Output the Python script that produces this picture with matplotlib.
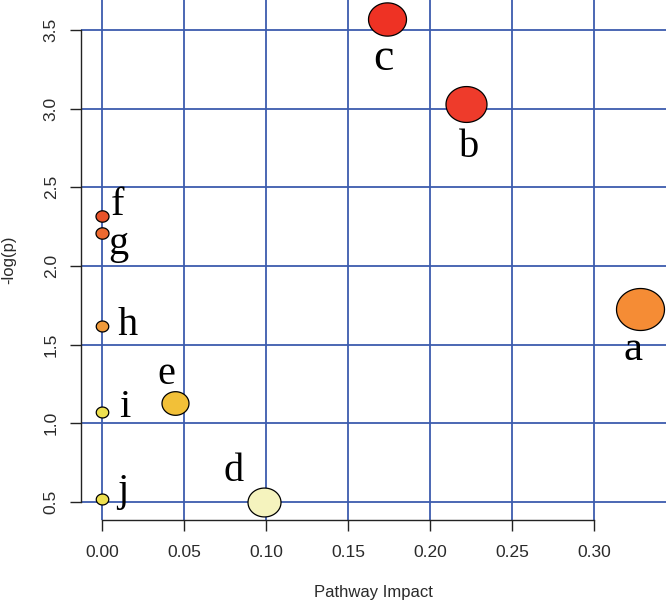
import numpy as np
import matplotlib
matplotlib.use('Agg')
import matplotlib.pyplot as plt
from matplotlib.path import Path

# pathway impact plot values
labels = ['a', 'b', 'c', 'd', 'e', 'f', 'g', 'h', 'i', 'j']
impact = [0.328, 0.222, 0.174, 0.0985, 0.0447, 0.0, 0.0, 0.0, 0.0, 0.0]
logp = [1.726, 3.028, 3.57, 0.503, 1.127, 2.318, 2.207, 1.620, 1.073, 0.518]
widths_px = [48, 41, 38, 33, 27, 13, 13, 12.5, 12.5, 12.5]
colors = ['#F58C35', '#EE3B2B', '#EE3224', '#F5F3BE', '#F2C038',
          '#E8532A', '#EE6A30', '#F09A3A', '#EEE050', '#EEE050']

xticks = [0.00, 0.05, 0.10, 0.15, 0.20, 0.25, 0.30]
yticks = [0.5, 1.0, 1.5, 2.0, 2.5, 3.0, 3.5]

# label offsets from the bubble (pixels) and font size
label_off = [(-7, -51), (3, -53), (-4, -51), (-30, 21), (-9, 19),
             (16, 1), (16, -21), (26, -9), (23, -5), (21, -2)]
label_size = [31, 29, 33, 29, 29, 29, 29, 29, 29, 29]

# bubbles are slightly wider than tall in the picture
t = np.linspace(0, 2 * np.pi, 80)
ellipse = Path(np.column_stack([np.cos(t), 0.875 * np.sin(t)]), closed=True)

fig = plt.figure(figsize=(6.66, 6.01), dpi=100)
ax = fig.add_axes([81 / 666, 81 / 601, 1 - 81 / 666, 1 - 81 / 601])

for i in range(len(labels)):
    ax.scatter(impact[i], logp[i], s=(widths_px[i] * 0.72) ** 2, marker=ellipse,
               color=colors[i], edgecolors='black', linewidths=0.9, zorder=3)
    ax.annotate(labels[i], (impact[i], logp[i]), xytext=label_off[i],
                textcoords='offset pixels', ha='center', va='baseline',
                fontsize=label_size[i], family='Liberation Serif', zorder=4)

ax.set_xlim(-0.0128, 0.3439)
ax.set_ylim(0.3856, 3.6907)
ax.set_xticks(xticks)
ax.set_yticks(yticks)
ax.set_xticklabels(['%.2f' % v for v in xticks])
ax.set_yticklabels(['%.1f' % v for v in yticks], rotation=90, va='center')

ax.set_axisbelow(True)
ax.grid(True, color='#3D5CAE', linewidth=1.3)

for s in ['top', 'right']:
    ax.spines[s].set_visible(False)
ax.spines['left'].set_bounds(0.5, 3.5)
ax.spines['bottom'].set_bounds(0.0, 0.30)
for s in ['left', 'bottom']:
    ax.spines[s].set_linewidth(1.0)
    ax.spines[s].set_color('#222222')

ax.tick_params(axis='x', length=8, width=1.0, color='#222222', pad=10,
               labelsize=12.5, labelcolor='#2a2a2a')
ax.tick_params(axis='y', length=8, width=1.0, color='#222222', pad=8,
               labelsize=12.5, labelcolor='#2a2a2a')
for lab in ax.get_xticklabels() + ax.get_yticklabels():
    lab.set_family('Liberation Sans')

ax.set_xlabel('Pathway Impact', fontsize=12, color='#2a2a2a',
              family='Liberation Sans', labelpad=18)
ax.set_ylabel('-log(p)', fontsize=12, color='#2a2a2a',
              family='Liberation Sans', labelpad=20)

fig.savefig('out.png', dpi=100)
